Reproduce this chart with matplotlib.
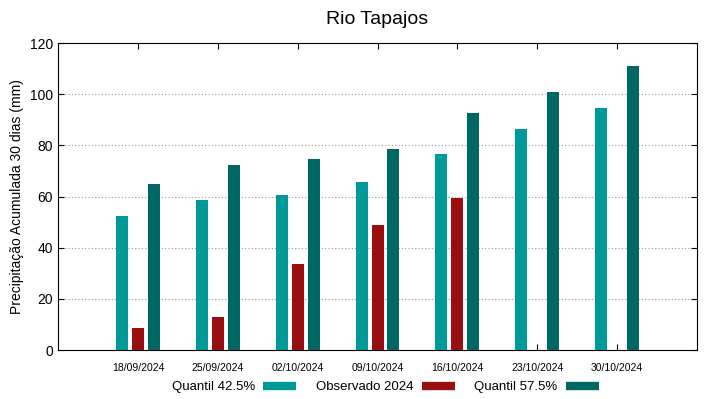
import numpy as np
import matplotlib.pyplot as plt
from matplotlib.lines import Line2D

plt.rcParams['font.family'] = ['Liberation Sans', 'DejaVu Sans']

dates = ['18/09/2024', '25/09/2024', '02/10/2024', '09/10/2024',
         '16/10/2024', '23/10/2024', '30/10/2024']
q425 = [52.5, 58.5, 60.5, 65.5, 76.5, 86.5, 94.5]
observado = [8.5, 13.0, 33.5, 49.0, 59.5]
q575 = [65.0, 72.5, 74.5, 78.5, 92.5, 101.0, 111.0]

c_q425 = '#009999'
c_obs = '#990f0f'
c_q575 = '#006864'

fig = plt.figure(figsize=(7.19, 3.99), dpi=100)
ax = fig.add_axes([0.0807, 0.1228, 0.8887, 0.7694])

x = np.arange(len(dates))
w = 0.15
ax.bar(x - 0.2, q425, w, color=c_q425, zorder=3)
ax.bar(x[:len(observado)], observado, w, color=c_obs, zorder=3)
ax.bar(x + 0.2, q575, w, color=c_q575, zorder=3)

ax.set_xlim(-1, 7)
ax.set_ylim(0, 120)
ax.set_xticks(x)
ax.set_xticklabels(dates, fontsize=7.5)
ax.set_yticks(np.arange(0, 121, 20))
ax.tick_params(axis='y', labelsize=10, direction='in', right=True, length=4)
ax.tick_params(axis='x', direction='in', top=True, length=4, pad=9)
for gy in range(20, 120, 20):
    ax.axhline(gy, color='#999999', linestyle=(0, (1, 2)), linewidth=0.8, zorder=1)

ax.set_ylabel('Precipitação Acumulada 30 dias (mm)', fontsize=10)
ax.set_title('Rio Tapajos', fontsize=14, pad=14)

handles = [Line2D([], [], color=c, linewidth=6, solid_capstyle='butt')
           for c in (c_q425, c_obs, c_q575)]
fig.legend(handles, ['Quantil 42.5%', 'Observado 2024', 'Quantil 57.5%'],
           loc='center', bbox_to_anchor=(0.536, 0.03), ncol=3, frameon=False,
           markerfirst=False, fontsize=9.5, handlelength=2.5, columnspacing=1.5,
           handletextpad=0.6)

fig.savefig('out.png', dpi=100)
